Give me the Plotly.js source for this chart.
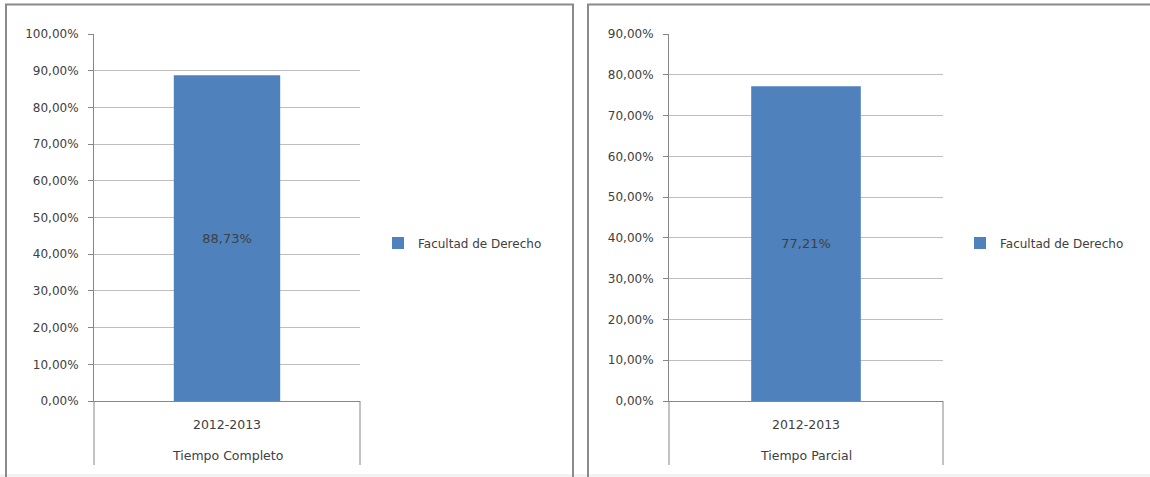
<!DOCTYPE html>
<html>
<head>
<meta charset="utf-8">
<script src="https://cdn.plot.ly/plotly-3.0.1.min.js"></script>
<style>
  html, body { margin: 0; padding: 0; background: #ffffff; }
  #chart { width: 1150px; height: 477px; }
</style>
</head>
<body>
<div id="chart"></div>
<script>
// ---- data ----
const categories = ["2012-2013"];
const groupLabels = ["Tiempo Completo", "Tiempo Parcial"];
const seriesName = "Facultad de Derecho";
const tiempoCompleto = [0.8873];
const tiempoParcial = [0.7721];

// ---- helpers (pixel -> paper) ----
const W = 1150, H = 477;
const px = v => v / W;
const py = v => 1 - v / H;

const textColor = '#404040';
const axisColor = '#868686';
const gridColor = '#bebebe';
const barColor = '#4f81bd';
const fontFamily = '"DejaVu Sans", Verdana, sans-serif';

function barTrace(y, xa, ya, lg) {
  return {
    type: 'bar',
    x: categories,
    y: y,
    name: seriesName,
    xaxis: xa,
    yaxis: ya,
    legend: lg,
    width: 0.4,
    marker: { color: barColor },
    texttemplate: '%{y:.2%}',
    textposition: 'inside',
    insidetextanchor: 'middle',
    textfont: { color: textColor, size: 13, family: fontFamily },
    hoverinfo: 'skip',
    showlegend: true
  };
}

const data = [
  barTrace(tiempoCompleto, 'x', 'y', 'legend'),
  barTrace(tiempoParcial, 'x2', 'y2', 'legend2')
];

function xAxis(d0, d1, anchor) {
  return {
    domain: [px(d0), px(d1)],
    anchor: anchor,
    type: 'category',
    range: [-0.5, 0.5],
    showgrid: false,
    zeroline: false,
    showline: true,
    linecolor: axisColor,
    linewidth: 1,
    ticks: '',
    ticklabelstandoff: 12,
    tickfont: { size: 12.5, color: textColor, family: fontFamily },
    fixedrange: true
  };
}

function yAxis(maxV, anchor) {
  return {
    domain: [py(401), py(34)],
    anchor: anchor,
    range: [0, maxV],
    tick0: 0,
    dtick: 0.1,
    tickformat: '.2%',
    showgrid: true,
    gridcolor: gridColor,
    gridwidth: 1,
    zeroline: false,
    showline: true,
    linecolor: axisColor,
    linewidth: 1,
    ticks: 'outside',
    ticklen: 5,
    tickcolor: axisColor,
    ticklabelstandoff: 7,
    tickfont: { size: 12, color: textColor, family: fontFamily },
    fixedrange: true
  };
}

const borderColor = '#8a8a8a';
function vline(x, y0, y1, color, w) {
  return { type: 'line', xref: 'paper', yref: 'paper', x0: px(x), x1: px(x), y0: py(y0), y1: py(y1),
           line: { color: color, width: w } };
}
function hline(y, x0, x1, color, w) {
  return { type: 'line', xref: 'paper', yref: 'paper', x0: px(x0), x1: px(x1), y0: py(y), y1: py(y),
           line: { color: color, width: w } };
}

const shapes = [
  // panel borders
  hline(4.5, 5, 574, borderColor, 2),
  vline(6, 4, 477, borderColor, 2),
  vline(573, 4, 477, borderColor, 2),
  hline(4.5, 587, 1150, borderColor, 2),
  vline(588, 4, 477, borderColor, 2),
  // category dividers
  vline(94, 401, 465, axisColor, 1),
  vline(360, 401, 465, axisColor, 1),
  vline(669, 401, 465, axisColor, 1),
  vline(943, 401, 465, axisColor, 1),
  // faint bottom strip
  { type: 'rect', xref: 'paper', yref: 'paper', x0: 0, x1: 1, y0: 0, y1: py(474),
    fillcolor: '#f3f3f3', line: { width: 0 }, layer: 'below' }
];

const annotations = [
  { xref: 'paper', yref: 'paper', x: px((94 + 360) / 2), y: py(455), xanchor: 'center', yanchor: 'middle',
    text: groupLabels[0], showarrow: false, font: { size: 12.5, color: textColor, family: fontFamily } },
  { xref: 'paper', yref: 'paper', x: px((669 + 943) / 2), y: py(455), xanchor: 'center', yanchor: 'middle',
    text: groupLabels[1], showarrow: false, font: { size: 12.5, color: textColor, family: fontFamily } }
];

function legendBox(xpx) {
  return {
    x: px(xpx), y: py(243), xanchor: 'left', yanchor: 'middle',
    bgcolor: 'rgba(0,0,0,0)', borderwidth: 0,
    font: { size: 12, color: textColor, family: fontFamily }
  };
}

const layout = {
  width: W,
  height: H,
  margin: { l: 0, r: 0, t: 0, b: 0, pad: 0 },
  paper_bgcolor: '#ffffff',
  plot_bgcolor: '#ffffff',
  separators: ',.',
  font: { family: fontFamily, color: textColor },
  xaxis: xAxis(94, 360, 'y'),
  yaxis: yAxis(1.0, 'x'),
  xaxis2: xAxis(669, 943, 'y2'),
  yaxis2: yAxis(0.9, 'x2'),
  legend: legendBox(378),
  legend2: legendBox(960),
  shapes: shapes,
  annotations: annotations,
  showlegend: true
};

Plotly.newPlot('chart', data, layout, { staticPlot: true, displayModeBar: false });
</script>
</body>
</html>
